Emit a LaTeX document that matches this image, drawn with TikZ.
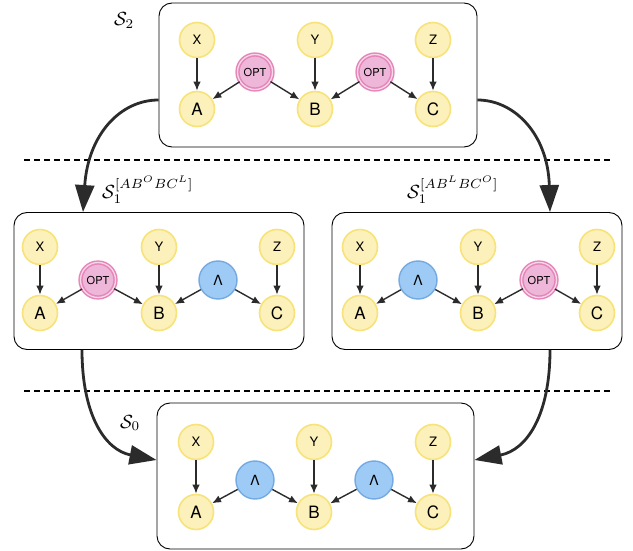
\documentclass[tikz,border=0pt]{standalone}
\usepackage{fontspec}
\newfontfamily\heros{TeX Gyre Heros}
\usetikzlibrary{arrows.meta,calc}
\definecolor{varfill}{HTML}{FCF1BA}
\definecolor{varline}{HTML}{F8E27A}
\definecolor{optfill}{HTML}{EEB6D8}
\definecolor{optline}{HTML}{E685B8}
\definecolor{lamfill}{HTML}{9ECBF6}
\definecolor{lamline}{HTML}{74A9E2}
\definecolor{arr}{HTML}{2B2B2B}
\tikzset{
  panel/.style={draw,rounded corners=13pt,line width=0.9pt},
  var/.style={circle,draw=varline,fill=varfill,line width=1.6pt,minimum size=35pt,inner sep=0pt},
  top/.style={var,font=\heros\fontsize{13}{13}\selectfont},
  bot/.style={var,font=\heros\fontsize{17}{17}\selectfont},
  opt/.style={circle,draw=optline,fill=optfill,line width=1.5pt,double=optfill!55!white,double distance=1.3pt,minimum size=35pt,inner sep=0pt,font=\heros\fontsize{11}{11}\selectfont},
  lam/.style={circle,draw=lamline,fill=lamfill,line width=1.4pt,minimum size=38pt,inner sep=0pt,font=\heros\fontsize{14}{14}\selectfont},
  edge/.style={draw=arr,line width=1.4pt,-{Latex[length=9pt,width=7.5pt]}},
  flow/.style={draw=arr,line width=2.8pt,-{Triangle[length=27pt,width=19pt]}},
  lab/.style={inner sep=0pt}
}
\newcommand{\stagename}[1]{\scalebox{1.9}{$#1$}}
\begin{document}
\begin{tikzpicture}[x=1pt,y=-1pt]
\useasboundingbox (0,0) rectangle (633,551);
% panels
\node[panel,minimum width=318pt,minimum height=144pt] (s2) at (318,75) {};
\node[panel,minimum width=290pt,minimum height=137pt] (s1l) at (159,281) {};
\node[panel,minimum width=290pt,minimum height=137pt] (s1r) at (477,281) {};
\node[panel,minimum width=317pt,minimum height=146pt] (s0) at (315.5,476) {};
% panel names
\node[lab,anchor=base west] (n2) at (114,26) {\stagename{\mathcal{S}_2}};
\node[lab,anchor=base west] (n1l) at (102,198) {\stagename{\mathcal{S}_1^{[AB^OBC^L]}}};
\node[lab,anchor=base west] (n1r) at (407,198) {\stagename{\mathcal{S}_1^{[AB^LBC^O]}}};
\node[lab,anchor=base west] (n0) at (120,428) {\stagename{\mathcal{S}_0}};
% S2
\node[top] (X2) at (197,40) {X}; \node[top] (Y2) at (315,40) {Y}; \node[top] (Z2) at (433,40) {Z};
\node[bot] (A2) at (197,109) {A}; \node[bot] (B2) at (315,109) {B}; \node[bot] (C2) at (433,109) {C};
\node[opt] (L2) at (255,72) {OPT}; \node[opt] (R2) at (375,72) {OPT};
% S1 left
\node[top] (Xl) at (40,247) {X}; \node[top] (Yl) at (159,247) {Y}; \node[top] (Zl) at (277,247) {Z};
\node[bot] (Al) at (40,313) {A}; \node[bot] (Bl) at (159,313) {B}; \node[bot] (Cl) at (277,313) {C};
\node[opt] (Ll) at (98,280) {OPT}; \node[lam] (Rl) at (218,280) {Λ};
% S1 right
\node[top] (Xr) at (360,247) {X}; \node[top] (Yr) at (478,247) {Y}; \node[top] (Zr) at (597,247) {Z};
\node[bot] (Ar) at (360,313) {A}; \node[bot] (Br) at (478,313) {B}; \node[bot] (Cr) at (597,313) {C};
\node[lam] (Lr) at (418,280) {Λ}; \node[opt] (Rr) at (539,280) {OPT};
% S0
\node[top] (X0) at (196,442) {X}; \node[top] (Y0) at (314,442) {Y}; \node[top] (Z0) at (433,442) {Z};
\node[bot] (A0) at (196,512) {A}; \node[bot] (B0) at (314,512) {B}; \node[bot] (C0) at (433,512) {C};
\node[lam] (L0) at (255,480) {Λ}; \node[lam] (R0) at (374,480) {Λ};
% edges
\foreach \p in {2,l,r,0} {
  \draw[edge] (X\p) -- (A\p); \draw[edge] (Y\p) -- (B\p); \draw[edge] (Z\p) -- (C\p);
  \draw[edge] (L\p) -- (A\p); \draw[edge] (L\p) -- (B\p);
  \draw[edge] (R\p) -- (B\p); \draw[edge] (R\p) -- (C\p);
}
% separators
\draw[line width=1.3pt,dash pattern=on 6pt off 4pt] (24,160) -- (610,160);
\draw[line width=1.3pt,dash pattern=on 6pt off 4pt] (24,391) -- (610,391);
% flow
\draw[flow] ($(s2.west)+(0,25)$) .. controls (120,100) and (88,135) .. ($(s1l.north)+(-76,0)$);
\draw[flow] ($(s2.east)+(0,25)$) .. controls (515,100) and (548,135) .. ($(s1r.north)+(73,0)$);
\draw[flow] ($(s1l.south)+(-77,0)$) .. controls (82,415) and (105,450) .. ($(s0.west)+(0,-16)$);
\draw[flow] ($(s1r.south)+(73,0)$) .. controls (550,415) and (527,450) .. ($(s0.east)+(0,-16)$);
\end{tikzpicture}
\end{document}
